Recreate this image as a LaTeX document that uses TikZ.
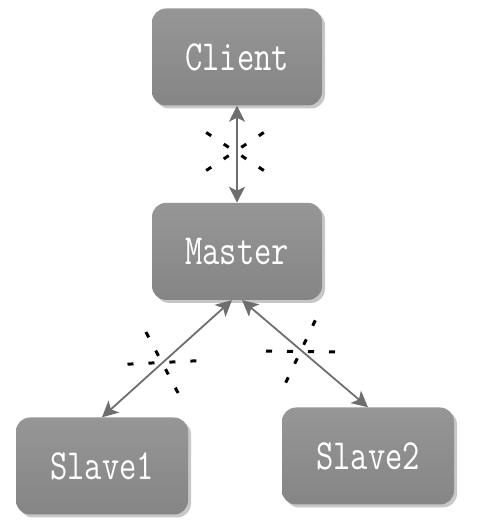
\documentclass[tikz,border=0pt]{standalone}
\usepackage{fontspec}
\usepackage{tikz}
\usetikzlibrary{positioning, arrows.meta, shadows}
\newfontfamily\boxfont[FakeStretch=0.78]{Latin Modern Mono}
\definecolor{boxtop}{HTML}{969696}
\definecolor{boxbottom}{HTML}{858585}
\definecolor{linkgray}{HTML}{6E6E6E}

\begin{document}
\begin{tikzpicture}[
   x=1pt, y=1pt,
   node distance = 97pt,
   box/.style = {rectangle, rounded corners=14pt, minimum width=170pt, minimum height=97pt,
      top color=boxtop, bottom color=boxbottom, text=white,
      font=\boxfont\fontsize{43}{43}\selectfont,
      drop shadow={shadow xshift=3pt, shadow yshift=-3pt, fill=black!22, opacity=1}},
   link/.style = {draw=linkgray, line width=1.8pt,
      {Stealth[length=16pt, width=16pt, inset=4pt]}-{Stealth[length=16pt, width=16pt, inset=4pt]}},
   cut/.style = {draw=black, line width=3pt, dash pattern=on 6pt off 15pt}]
   \useasboundingbox (0,0) rectangle (477,524);

   \node[box] (client) at (237,467) {Client};
   \node[box, below=of client] (master) {Master};
   \node[box, minimum width=172pt] (slave1) at (102,58) {Slave1};
   \node[box, minimum width=172pt] (slave2) at (368,68) {Slave2};

   \draw[link] (client.south) -- (master.north);
   \draw[link] ([xshift=-5pt]master.south) -- (slave1.north);
   \draw[link] ([xshift=5pt]master.south) -- (slave2.north);

   % cut marks
   \draw[cut] (206.2,391.5) -- (263.8,353.5);
   \draw[cut] (263.8,391.5) -- (206.2,353.5);

   \draw[cut] (127.5,159.8) -- (196.5,163.2);
   \draw[cut] (145.9,192) -- (178.1,131);

   \draw[cut] (266,173) -- (335,172);
   \draw[cut] (285.7,141.3) -- (315.3,203.7);
\end{tikzpicture}
\end{document}
